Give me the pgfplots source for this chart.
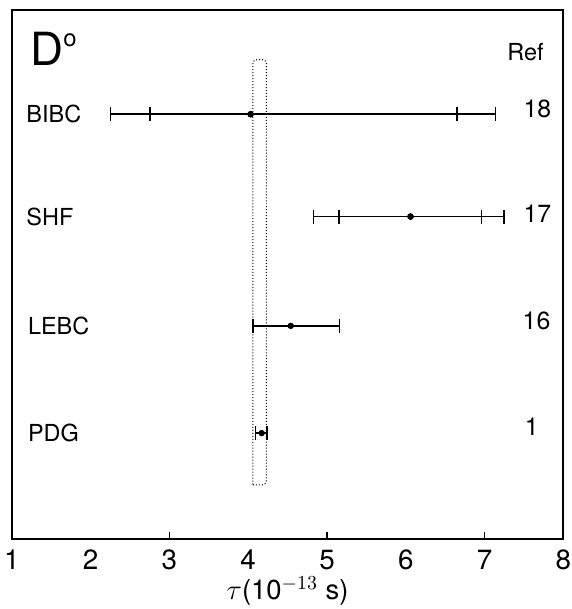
\documentclass[border=0pt]{standalone}
\usepackage{pgfplots}
\pgfplotsset{compat=1.18}
\usepackage{fontspec}
\setmainfont{TeX Gyre Heros}
\begin{document}
\begin{tikzpicture}
\begin{axis}[
  scale only axis, width=277.5pt, height=266.5pt,
  xmin=1, xmax=8, ymin=0, ymax=533,
  axis line style={line width=1pt},
  xtick={1,...,8}, ytick=\empty,
  major tick length=0pt,
  extra x ticks={3,5,7}, extra x tick labels={},
  extra x tick style={major tick length=4pt, tick style={line width=0.6pt, black}},
  xtick pos=lower,
  tick label style={font=\fontsize{14}{15}\selectfont},
  xticklabel style={inner sep=0pt, text depth=0pt, yshift=-5pt},
  /pgf/number format/assume math mode=true,
  xlabel={$\tau$(10$^{-13}$ s)},
  xlabel style={font=\fontsize{13.8}{15}\selectfont, at={(axis description cs:0.5,0)}, anchor=north, inner sep=0pt, yshift=-18.5pt},
  clip=false,
]
% band
\addplot[black, line width=0.5pt, densely dotted, rounded corners=2pt] coordinates {(4.06,55) (4.23,55) (4.23,483) (4.06,483) (4.06,55)};
% inner (stat) error ticks
\addplot[black, only marks, mark=*, mark size=1.4pt,
  error bars/.cd, x dir=both, x explicit,
  error bar style={line width=0.8pt},
  error mark options={black, mark size=3.5pt, line width=0.8pt, rotate=90}]
  coordinates {
  (4.03,428) -= (1.28,0) += (2.62,0)
  (6.06,325) -= (0.91,0) += (0.90,0)
  };
% outer (total) error bars
\addplot[black, only marks, mark=*, mark size=1.4pt,
  error bars/.cd, x dir=both, x explicit,
  error bar style={line width=0.8pt},
  error mark options={black, mark size=3.5pt, line width=0.8pt, rotate=90}]
  coordinates {
  (4.03,428) -= (1.78,0) += (3.11,0)
  (6.06,325) -= (1.23,0) += (1.19,0)
  (4.54,215) -= (0.48,0) += (0.62,0)
  (4.17,107) -= (0.08,0) += (0.07,0)
  };
% labels
\node[anchor=west, inner sep=0pt, font=\fontsize{23}{24}\selectfont] at (axis cs:1.23,494) {D\raisebox{0.42em}{\fontsize{12}{12}\selectfont o}};
\node[anchor=west, inner sep=0pt, font=\fontsize{11.8}{13}\selectfont] at (axis cs:1.18,428) {BIBC};
\node[anchor=west, inner sep=0pt, font=\fontsize{11.8}{13}\selectfont] at (axis cs:1.18,325) {SHF};
\node[anchor=west, inner sep=0pt, font=\fontsize{11.8}{13}\selectfont] at (axis cs:1.2,215) {LEBC};
\node[anchor=west, inner sep=0pt, font=\fontsize{11.8}{13}\selectfont] at (axis cs:1.2,107) {PDG};
\node[font=\fontsize{11.8}{13}\selectfont] at (axis cs:7.52,491) {Ref};
\node[font=\fontsize{12.5}{13}\selectfont] at (axis cs:7.67,433) {18};
\node[font=\fontsize{12.5}{13}\selectfont] at (axis cs:7.67,328) {17};
\node[font=\fontsize{12.5}{13}\selectfont] at (axis cs:7.66,220) {16};
\node[font=\fontsize{12.5}{13}\selectfont] at (axis cs:7.60,113) {1};
\end{axis}
\pgfresetboundingbox
\path ([xshift=-6pt,yshift=-35pt]current axis.south west) ([xshift=4pt,yshift=5pt]current axis.north east);
\end{tikzpicture}
\end{document}
